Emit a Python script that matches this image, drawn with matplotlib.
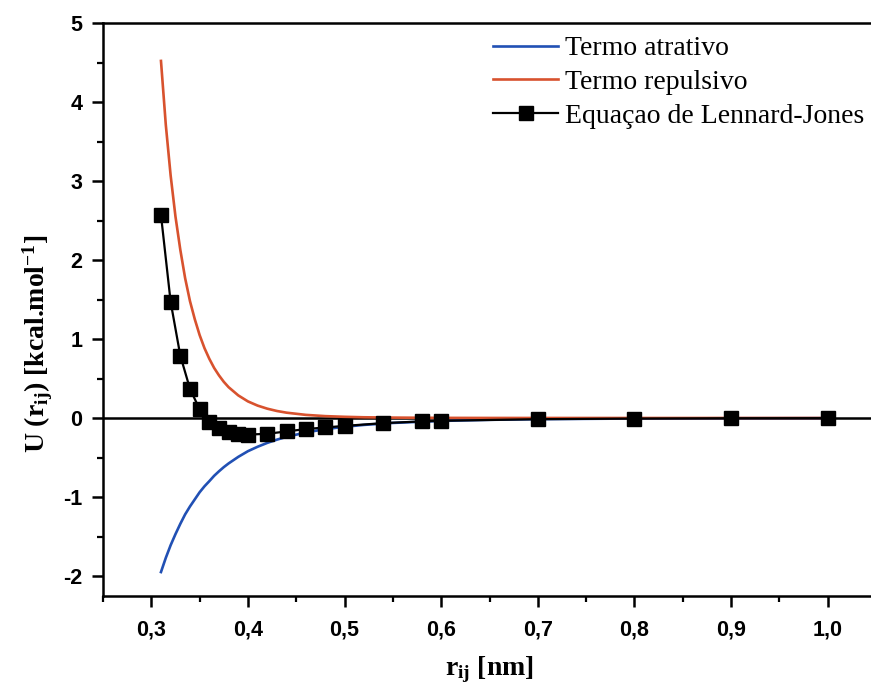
import matplotlib
matplotlib.use("Agg")
import matplotlib.pyplot as plt
from matplotlib.ticker import MultipleLocator, FixedLocator

# ---- data ----
r_curve = [0.31, 0.315, 0.32, 0.325, 0.33, 0.335, 0.34, 0.345, 0.35, 0.355,
           0.36, 0.365, 0.37, 0.375, 0.38, 0.39, 0.40, 0.41, 0.42, 0.43, 0.44,
           0.46, 0.48, 0.50, 0.52, 0.55, 0.60, 0.65, 0.70, 0.80, 0.90, 1.00]
attractive = [-1.95, -1.77, -1.61, -1.47, -1.34, -1.22, -1.12, -1.03, -0.94,
              -0.865, -0.80, -0.732, -0.675, -0.622, -0.575, -0.492, -0.42,
              -0.364, -0.315, -0.274, -0.2385, -0.1827, -0.1414, -0.111,
              -0.0875, -0.0625, -0.037, -0.023, -0.0147, -0.0066, -0.0032,
              -0.0017]
repulsive = [4.52, 3.71, 3.07, 2.55, 2.13, 1.77, 1.48, 1.25, 1.05, 0.885, 0.75,
             0.634, 0.54, 0.458, 0.39, 0.286, 0.21, 0.157, 0.118, 0.0887,
             0.0673, 0.0395, 0.0237, 0.015, 0.0091, 0.005, 0.0016, 0.0006,
             0.0003, 0.0001, 0.0, 0.0]

r_lj = [0.31, 0.32, 0.33, 0.34, 0.35, 0.36, 0.37, 0.38, 0.39, 0.40, 0.42, 0.44,
        0.46, 0.48, 0.50, 0.54, 0.58, 0.60, 0.70, 0.80, 0.90, 1.00]
u_lj = [2.57, 1.47, 0.79, 0.37, 0.11, -0.05, -0.13, -0.18, -0.20, -0.21, -0.20,
        -0.17, -0.14, -0.12, -0.10, -0.065, -0.043, -0.035, -0.015, -0.007,
        -0.003, -0.002]

xticks = [0.3, 0.4, 0.5, 0.6, 0.7, 0.8, 0.9, 1.0]
xtick_labels = ['0,3', '0,4', '0,5', '0,6', '0,7', '0,8', '0,9', '1,0']
yticks = [-2, -1, 0, 1, 2, 3, 4, 5]
ytick_labels = ['-2', '-1', '0', '1', '2', '3', '4', '5']

labels = ['Termo atrativo', 'Termo repulsivo', 'Equaçao de Lennard-Jones']

plt.rcParams['mathtext.fontset'] = 'custom'
plt.rcParams['mathtext.rm'] = 'Liberation Serif:bold'
plt.rcParams['mathtext.bf'] = 'Liberation Serif:bold'
plt.rcParams['mathtext.it'] = 'Liberation Serif:bold'

W, H = 871, 689
fig = plt.figure(figsize=(W / 100, H / 100), dpi=100)
left, right, top, bottom = 103, 876, 23, 595.75
ax = fig.add_axes([left / W, 1 - bottom / H, (right - left) / W, (bottom - top) / H])

red = '#d8522e'
blue = '#2150b4'

ax.axhline(0, color='black', lw=1.8, zorder=1)
ax.plot(r_curve, attractive, color=blue, lw=1.9, label=labels[0], zorder=2)
ax.plot(r_curve, repulsive, color=red, lw=1.9, label=labels[1], zorder=2)
ax.plot(r_lj, u_lj, color='black', lw=1.6, marker='s', markersize=10,
        label=labels[2], zorder=3)

ax.set_xlim(0.25, 1.05)
ax.set_ylim(-2.25, 5)

ax.xaxis.set_major_locator(FixedLocator(xticks))
ax.set_xticklabels(xtick_labels)
ax.xaxis.set_minor_locator(MultipleLocator(0.05))
ax.yaxis.set_major_locator(FixedLocator(yticks))
ax.set_yticklabels(ytick_labels)
ax.yaxis.set_minor_locator(MultipleLocator(0.5))

for lab in ax.get_xticklabels() + ax.get_yticklabels():
    lab.set_fontfamily('Liberation Sans')
    lab.set_fontweight('bold')
    lab.set_fontsize(15.5)

ax.tick_params(which='major', direction='out', length=8, width=1.8, pad=7)
ax.tick_params(axis='x', which='major', pad=9)
ax.tick_params(which='minor', direction='out', length=4.5, width=1.6)
ax.tick_params(top=False, right=False)
for s in ax.spines.values():
    s.set_linewidth(1.8)

ax.set_xlabel(r'r$_{\mathregular{ij}}$ [nm]', fontfamily='Liberation Serif',
              fontweight='bold', fontsize=20, labelpad=10)
ax.set_ylabel(r'U (r$_{\mathregular{ij}}$) [kcal.mol$^{\mathregular{-1}}$]',
              fontfamily='Liberation Serif', fontweight='bold', fontsize=20)
ax.yaxis.set_label_coords(-0.062, 0.44)

leg = ax.legend(loc='upper left', bbox_to_anchor=(493 / W, 1 - 36 / H),
                bbox_transform=fig.transFigure, frameon=False,
                prop={'family': 'Liberation Serif', 'size': 20},
                handlelength=2.35, handletextpad=0.25, labelspacing=0.3,
                borderaxespad=0, borderpad=0)

fig.savefig('out.png', dpi=100)
